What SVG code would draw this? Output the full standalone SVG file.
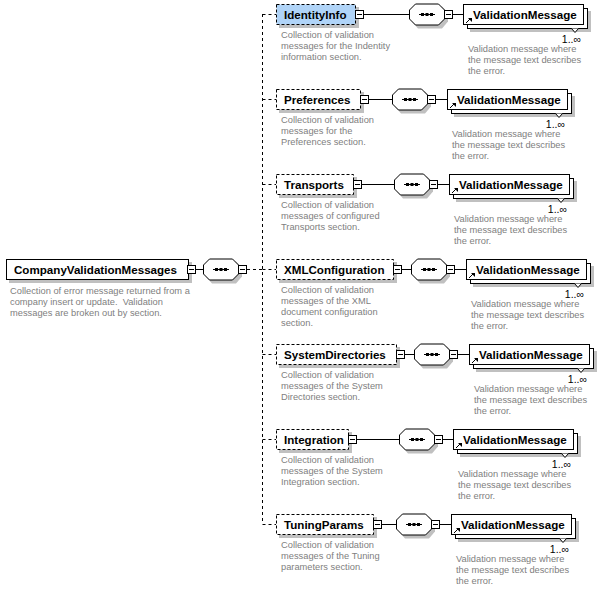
<svg xmlns="http://www.w3.org/2000/svg" xmlns:xlink="http://www.w3.org/1999/xlink" width="608" height="589" viewBox="0 0 608 589">
<style>
.name{font-family:"Liberation Sans",Arial,sans-serif;font-size:11.6px;font-weight:bold;fill:#000}
.desc{font-family:"Liberation Sans",Arial,sans-serif;font-size:9.3px;fill:#808080}
.occ{font-family:"Liberation Sans",Arial,sans-serif;font-size:10.5px;fill:#000;text-anchor:end}
.shadow{fill:#c0c0c0;stroke:none}
.box{fill:#fff;stroke:#000;stroke-width:1}
.opt{fill:#fff;stroke:#000;stroke-width:1;stroke-dasharray:3,2}
.sel{fill:#b0d4f8}
.wire{stroke:#000;stroke-width:1;fill:none}
.dash{stroke:#000;stroke-width:1;fill:none;stroke-dasharray:3,3}
</style>
<defs>
<g id="minus">
<rect x="0.5" y="0.5" width="8" height="8" fill="#fff" stroke="#000"/>
<line x1="2" y1="4.5" x2="7" y2="4.5" stroke="#000"/>
</g>
<g id="seq">
<polygon class="shadow" points="9,3 33,3 39,9 39,18 33,25 9,25 3,18 3,9"/>
<polygon class="box" points="6.5,0.5 29.5,0.5 35.5,6.5 35.5,15.5 29.5,21.5 6.5,21.5 0.5,15.5 0.5,6.5"/>
<line x1="10" y1="11" x2="26" y2="11" stroke="#000"/>
<rect x="12" y="9.5" width="3" height="3" fill="#000"/>
<rect x="16.5" y="9.5" width="3" height="3" fill="#000"/>
<rect x="21" y="9.5" width="3" height="3" fill="#000"/>
<use xlink:href="#minus" x="35" y="6.5"/>
</g>
<g id="vm">
<rect class="shadow" x="7" y="7" width="121" height="21"/>
<rect class="box" x="4.5" y="4.5" width="120" height="20"/>
<rect class="box" x="0.5" y="0.5" width="120" height="20"/>
<polyline points="108.5,24.5 112,28.5 115.5,24.5" fill="#fff" stroke="#000"/>
<line x1="3" y1="19" x2="7.5" y2="14.5" stroke="#000"/>
<polygon points="5,14 9,14 9,18" fill="#000"/>
<text class="name" x="10" y="14.5">ValidationMessage</text>
<text class="occ" x="118" y="39">1..∞</text>
</g>
</defs>

<g id="connectors">
<line class="wire" x1="196" y1="269.5" x2="203" y2="269.5"/>
<path class="dash" d="M247,269.5 H262.5 M262.5,14 V524 M262.5,14.5 H276 M262.5,99.5 H276 M262.5,184.5 H276 M262.5,354.5 H276 M262.5,439.5 H276 M262.5,524.5 H276 M262.5,269.5 H276"/>
<line class="wire" x1="364" y1="14.5" x2="409" y2="14.5"/>
<line class="wire" x1="453" y1="14.5" x2="463" y2="14.5"/>
<line class="wire" x1="369" y1="99.5" x2="392" y2="99.5"/>
<line class="wire" x1="436" y1="99.5" x2="447" y2="99.5"/>
<line class="wire" x1="362" y1="184.5" x2="394" y2="184.5"/>
<line class="wire" x1="438" y1="184.5" x2="449" y2="184.5"/>
<line class="wire" x1="402" y1="269.5" x2="411" y2="269.5"/>
<line class="wire" x1="455" y1="269.5" x2="466" y2="269.5"/>
<line class="wire" x1="405" y1="354.5" x2="414" y2="354.5"/>
<line class="wire" x1="458" y1="354.5" x2="469" y2="354.5"/>
<line class="wire" x1="357" y1="439.5" x2="399" y2="439.5"/>
<line class="wire" x1="443" y1="439.5" x2="453" y2="439.5"/>
<line class="wire" x1="382" y1="524.5" x2="396" y2="524.5"/>
<line class="wire" x1="440" y1="524.5" x2="451" y2="524.5"/>
</g>

<g id="root">
<rect class="shadow" x="9" y="262" width="183" height="21"/>
<rect class="box" x="6.5" y="259.5" width="182" height="20"/>
<text class="name" x="14" y="274">CompanyValidationMessages</text>
<use xlink:href="#minus" x="187" y="265"/>
<text class="desc" x="10" y="294">Collection of error message returned from a</text>
<text class="desc" x="10" y="305" xml:space="preserve">company insert or update.  Validation</text>
<text class="desc" x="10" y="316">messages are broken out by section.</text>
</g>
<g id="root-seq"><use xlink:href="#seq" x="203" y="258.5"/></g>

<g id="IdentityInfo">
<rect class="shadow" x="279" y="7" width="80" height="21"/>
<rect class="opt sel" x="276.5" y="4.5" width="79" height="20"/>
<text class="name" x="284" y="19">IdentityInfo</text>
<use xlink:href="#minus" x="355" y="10"/>
<text class="desc" x="281" y="38">Collection of validation</text>
<text class="desc" x="281" y="49">messages for the Indentity</text>
<text class="desc" x="281" y="60">information section.</text>
</g>
<g id="IdentityInfo-seq"><use xlink:href="#seq" x="409" y="3.5"/></g>
<g id="IdentityInfo-vm">
<use xlink:href="#vm" x="463" y="4"/>
<text class="desc" x="468" y="52">Validation message where</text>
<text class="desc" x="468" y="63">the message text describes</text>
<text class="desc" x="468" y="74">the error.</text>
</g>

<g id="Preferences">
<rect class="shadow" x="279" y="92" width="85" height="21"/>
<rect class="opt" x="276.5" y="89.5" width="84" height="20"/>
<text class="name" x="284" y="104">Preferences</text>
<use xlink:href="#minus" x="360" y="95"/>
<text class="desc" x="281" y="123">Collection of validation</text>
<text class="desc" x="281" y="134">messages for the</text>
<text class="desc" x="281" y="145">Preferences section.</text>
</g>
<g id="Preferences-seq"><use xlink:href="#seq" x="392" y="88.5"/></g>
<g id="Preferences-vm">
<use xlink:href="#vm" x="447" y="89"/>
<text class="desc" x="452" y="137">Validation message where</text>
<text class="desc" x="452" y="148">the message text describes</text>
<text class="desc" x="452" y="159">the error.</text>
</g>

<g id="Transports">
<rect class="shadow" x="279" y="177" width="78" height="21"/>
<rect class="opt" x="276.5" y="174.5" width="77" height="20"/>
<text class="name" x="284" y="189">Transports</text>
<use xlink:href="#minus" x="353" y="180"/>
<text class="desc" x="281" y="208">Collection of validation</text>
<text class="desc" x="281" y="219">messages of configured</text>
<text class="desc" x="281" y="230">Transports section.</text>
</g>
<g id="Transports-seq"><use xlink:href="#seq" x="394" y="173.5"/></g>
<g id="Transports-vm">
<use xlink:href="#vm" x="449" y="174"/>
<text class="desc" x="454" y="222">Validation message where</text>
<text class="desc" x="454" y="233">the message text describes</text>
<text class="desc" x="454" y="244">the error.</text>
</g>

<g id="XMLConfiguration">
<rect class="shadow" x="279" y="262" width="118" height="21"/>
<rect class="opt" x="276.5" y="259.5" width="117" height="20"/>
<text class="name" x="284" y="274">XMLConfiguration</text>
<use xlink:href="#minus" x="393" y="265"/>
<text class="desc" x="281" y="293">Collection of validation</text>
<text class="desc" x="281" y="304">messages of the XML</text>
<text class="desc" x="281" y="315">document configuration</text>
<text class="desc" x="281" y="326">section.</text>
</g>
<g id="XMLConfiguration-seq"><use xlink:href="#seq" x="411" y="258.5"/></g>
<g id="XMLConfiguration-vm">
<use xlink:href="#vm" x="466" y="259"/>
<text class="desc" x="471" y="307">Validation message where</text>
<text class="desc" x="471" y="318">the message text describes</text>
<text class="desc" x="471" y="329">the error.</text>
</g>

<g id="SystemDirectories">
<rect class="shadow" x="279" y="347" width="121" height="21"/>
<rect class="opt" x="276.5" y="344.5" width="120" height="20"/>
<text class="name" x="284" y="359">SystemDirectories</text>
<use xlink:href="#minus" x="396" y="350"/>
<text class="desc" x="281" y="378">Collection of validation</text>
<text class="desc" x="281" y="389">messages of the System</text>
<text class="desc" x="281" y="400">Directories section.</text>
</g>
<g id="SystemDirectories-seq"><use xlink:href="#seq" x="414" y="343.5"/></g>
<g id="SystemDirectories-vm">
<use xlink:href="#vm" x="469" y="344"/>
<text class="desc" x="474" y="392">Validation message where</text>
<text class="desc" x="474" y="403">the message text describes</text>
<text class="desc" x="474" y="414">the error.</text>
</g>

<g id="Integration">
<rect class="shadow" x="279" y="432" width="73" height="21"/>
<rect class="opt" x="276.5" y="429.5" width="72" height="20"/>
<text class="name" x="284" y="444">Integration</text>
<use xlink:href="#minus" x="348" y="435"/>
<text class="desc" x="281" y="463">Collection of validation</text>
<text class="desc" x="281" y="474">messages of the System</text>
<text class="desc" x="281" y="485">Integration section.</text>
</g>
<g id="Integration-seq"><use xlink:href="#seq" x="399" y="428.5"/></g>
<g id="Integration-vm">
<use xlink:href="#vm" x="453" y="429"/>
<text class="desc" x="458" y="477">Validation message where</text>
<text class="desc" x="458" y="488">the message text describes</text>
<text class="desc" x="458" y="499">the error.</text>
</g>

<g id="TuningParams">
<rect class="shadow" x="279" y="517" width="98" height="21"/>
<rect class="opt" x="276.5" y="514.5" width="97" height="20"/>
<text class="name" x="284" y="529">TuningParams</text>
<use xlink:href="#minus" x="373" y="520"/>
<text class="desc" x="281" y="548">Collection of validation</text>
<text class="desc" x="281" y="559">messages of the Tuning</text>
<text class="desc" x="281" y="570">parameters section.</text>
</g>
<g id="TuningParams-seq"><use xlink:href="#seq" x="396" y="513.5"/></g>
<g id="TuningParams-vm">
<use xlink:href="#vm" x="451" y="514"/>
<text class="desc" x="456" y="562">Validation message where</text>
<text class="desc" x="456" y="573">the message text describes</text>
<text class="desc" x="456" y="584">the error.</text>
</g>
</svg>
